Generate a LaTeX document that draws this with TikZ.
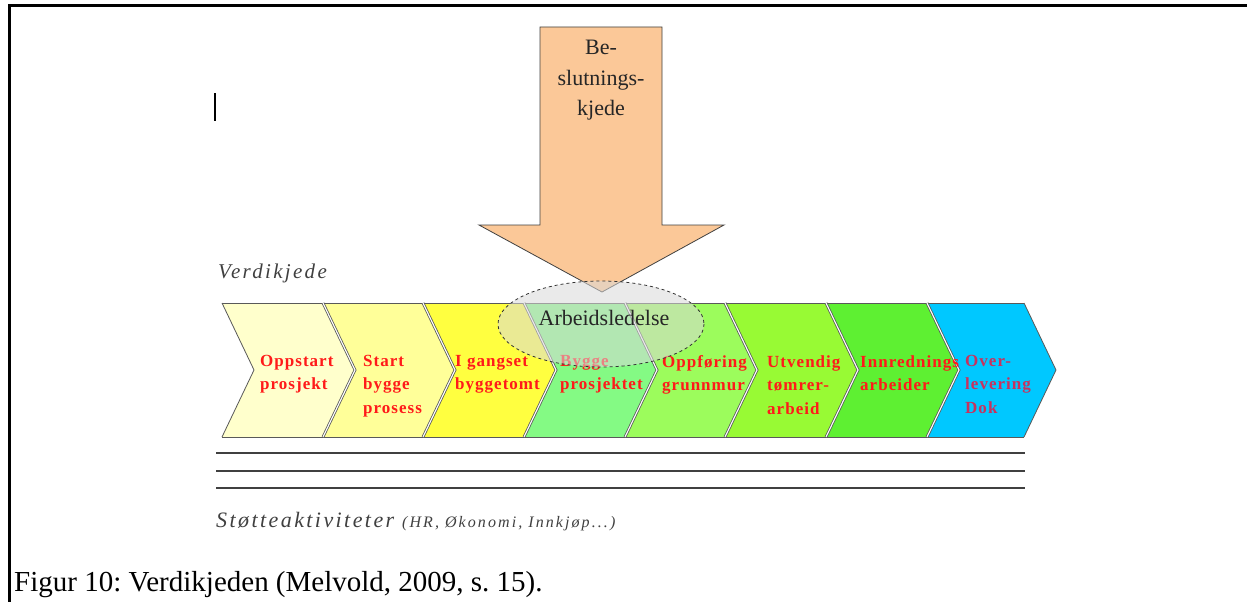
\documentclass[tikz,border=0pt]{standalone}
\usepackage{fontspec}
\setmainfont{Liberation Serif}
\newfontfamily\chevfont{Liberation Serif}[LetterSpace=6]
\newfontfamily\labfont{Liberation Serif}[LetterSpace=11]
\newfontfamily\smallfont{Liberation Serif}[LetterSpace=13]
\frenchspacing
\begin{document}
\begin{tikzpicture}[x=1pt,y=-1pt,
  chevtext/.style={anchor=north west,align=left,inner sep=0pt,
    font=\chevfont\bfseries\fontsize{17}{23.5}\selectfont,text=chevred},
  sep/.style={draw=black!65,line width=0.8pt,double=white,double distance=1.1pt},
]
\definecolor{chevred}{HTML}{FF1A1A}
\definecolor{dokred}{HTML}{C8325E}
\definecolor{peach}{HTML}{FBC898}
\definecolor{c1}{HTML}{FFFFCC}
\definecolor{c2}{HTML}{FFFF99}
\definecolor{c3}{HTML}{FFFF40}
\definecolor{c4}{HTML}{84FA84}
\definecolor{c5}{HTML}{9CFC5C}
\definecolor{c6}{HTML}{98FA34}
\definecolor{c7}{HTML}{5EF032}
\definecolor{c8}{HTML}{00C8FF}
\useasboundingbox (0,0) rectangle (1247,602);
\fill[white] (0,0) rectangle (1247,602);

% frame
\draw[line width=3pt] (9.5,602) -- (9.5,5.5) -- (1247,5.5);
% cursor mark
\draw[line width=2.5pt] (215,93) -- (215,121);

% value chain chevrons
\foreach \i/\a/\b/\c in {0/222/323/c1,1/323/423/c2,2/423/524/c3,3/524/625/c4,
                        4/625/725/c5,5/725/826/c6,6/826/927/c7,7/927/1024/c8}{
  \fill[\c] (\a,303) -- (\b,303) -- (\b+32,370) -- (\b,437) -- (\a,437) -- (\a+32,370) -- cycle;
  \draw[black!65,line width=0.8pt] (\a,303) -- (\b,303) (\a,437) -- (\b,437);
}
\draw[black!65,line width=0.8pt] (222,303) -- (254,370) -- (222,437);
\draw[black!65,line width=0.8pt] (1024,303) -- (1056,370) -- (1024,437);
\foreach \b in {323,423,524,625,725,826,927}{
  \draw[sep] (\b,303) -- (\b+32,370) -- (\b,437);
}

\node[chevtext] (t1) at (260,355) {Oppstart\\prosjekt};
\node[chevtext] (t2) at (363,355) {Start\\bygge\\prosess};
\node[chevtext] (t3) at (455,355) {I gangset\\byggetomt};
\node[chevtext] (t4) at (560,355) {Bygge\\prosjektet};
\node[chevtext] (t5) at (662,355) {Oppføring\\grunnmur};
\node[chevtext] (t6) at (767,355) {Utvendig\\tømrer-\\arbeid};
\node[chevtext] (t7) at (860,355) {Innrednings\\arbeider};
\node[chevtext,text=dokred] (t8) at (965,355) {Over-\\levering\\Dok};

% decision chain arrow
\draw[black!75,line width=0.8pt,fill=peach]
  (540,27) -- (662,27) -- (662,225) -- (724,225) -- (602,292) -- (479,225) -- (540,225) -- cycle;
\node[anchor=north,align=center,inner sep=0pt,font=\fontsize{22}{30.5}\selectfont,text=black!85]
  (beslutning) at (601,40) {Be-\\slutnings-\\kjede};

% management ellipse
\draw[black!80,dashed,line width=0.8pt,fill=black!15,fill opacity=0.55]
  (601,324) ellipse [x radius=103, y radius=43];
\node[inner sep=0pt,font=\fontsize{22}{26}\selectfont,text=black!85] (ledelse) at (604,318) {Arbeidsledelse};

% labels
\node[anchor=base west,inner sep=0pt,font=\labfont\itshape\fontsize{21}{24}\selectfont,text=black!75]
  (verdikjede) at (218,278) {Verdikjede};

% support activity lines
\foreach \y in {453,471,488}{
  \draw[black!75,line width=1.2pt] (216,\y) -- (1025,\y);
}
\node[anchor=base west,inner sep=0pt,font=\labfont\itshape\fontsize{22}{24}\selectfont,text=black!75]
  (stotte) at (216,527) {Støtteaktiviteter {\smallfont\fontsize{16}{18}\selectfont(HR, Økonomi, Innkjøp...)}};

% caption
\node[anchor=base west,inner sep=0pt,font=\fontsize{29}{32}\selectfont] (caption) at (14,591)
  {Figur 10: Verdikjeden (Melvold, 2009, s. 15).};
\end{tikzpicture}
\end{document}
